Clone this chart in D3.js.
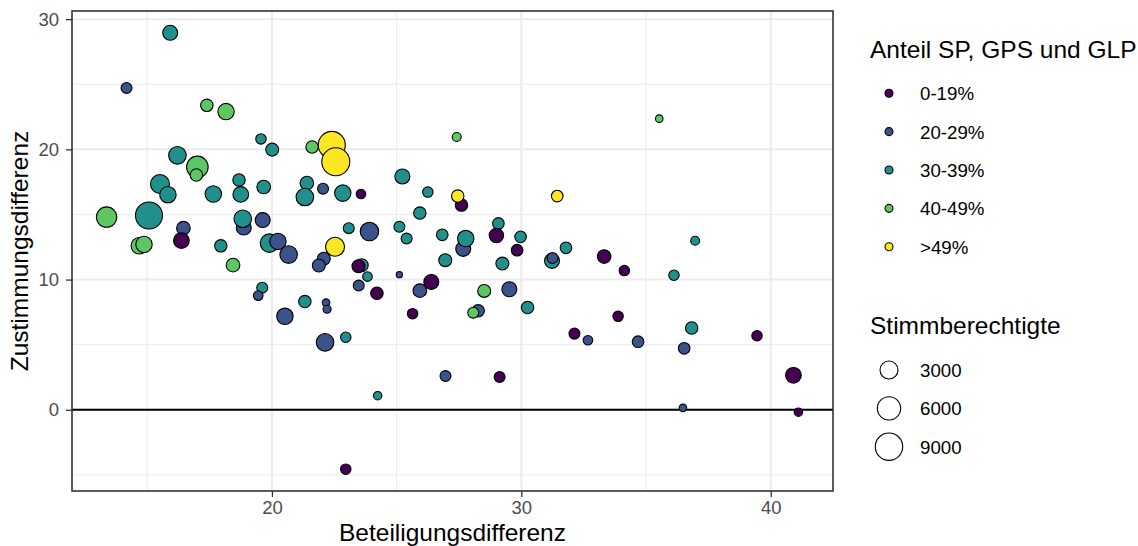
<!DOCTYPE html>
<html>
<head>
<meta charset="utf-8">
<script src="https://cdn.jsdelivr.net/npm/d3@7"></script>
<style>
  body { margin: 0; background: #fff; }
  svg { display: block; font-family: 'Liberation Sans', Arial, sans-serif; }
</style>
</head>
<body>
<div id="chart"></div>
<script>
// one entry per Gemeinde
const beteiligung = [
    15.92, 14.17, 17.39, 18.16, 19.56, 20.01, 21.61, 16.21, 17.01, 16.97,
    15.51, 15.83, 17.65, 18.68, 18.75, 19.67, 21.40, 21.32, 22.05, 22.84,
    23.57, 22.40, 22.56, 13.37, 15.07, 16.45, 16.37, 18.87, 18.83, 19.63,
    14.68, 14.87, 17.95, 19.90, 20.24, 20.67, 18.44, 19.61, 19.45, 20.52,
    21.32, 22.17, 22.21, 22.13, 22.53, 22.08, 21.88, 23.08, 23.91, 23.60,
    23.47, 23.83, 23.48, 24.21, 22.96, 22.96, 24.24, 25.23, 26.25, 25.93,
    27.41, 27.60, 27.45, 31.44, 25.11, 25.40, 26.83, 27.67, 27.77, 29.08,
    29.00, 29.97, 29.83, 31.79, 31.23, 31.25, 26.95, 29.24, 25.11, 26.39,
    25.93, 28.51, 29.52, 25.64, 28.27, 28.07, 30.25, 32.13, 26.96, 29.13,
    35.53, 36.97, 33.32, 34.13, 36.12, 33.88, 32.67, 34.68, 36.83, 36.53,
    39.45, 40.91, 36.48, 41.11
]
const zustimmung = [
    28.95, 24.72, 23.38, 22.90, 20.80, 19.98, 20.18, 19.54, 18.65, 18.03,
    17.34, 16.52, 16.57, 17.65, 16.54, 17.11, 17.41, 16.34, 16.98, 16.64,
    16.57, 20.34, 19.05, 14.80, 14.92, 13.95, 13.00, 14.00, 14.67, 14.57,
    12.60, 12.70, 12.59, 12.80, 12.93, 11.92, 11.11, 9.38, 8.77, 7.18,
    8.31, 8.23, 7.72, 5.18, 12.52, 11.60, 11.08, 13.95, 13.69, 11.10,
    11.03, 10.23, 9.54, 8.95, 5.57, -4.56, 1.08, 17.92, 16.72, 15.11,
    20.95, 15.72, 16.41, 16.41, 14.05, 13.15, 13.44, 12.36, 13.15, 14.31,
    13.38, 13.28, 12.26, 12.44, 11.44, 11.65, 11.49, 11.23, 10.38, 9.82,
    9.15, 9.13, 9.26, 7.38, 7.60, 7.46, 7.85, 5.85, 2.59, 2.52,
    22.36, 12.98, 11.77, 10.69, 10.33, 7.18, 5.34, 5.23, 6.28, 4.72,
    5.69, 2.65, 0.15, -0.18
]
// 0 = 0-19%, 1 = 20-29%, 2 = 30-39%, 3 = 40-49%, 4 = >49%
const anteilGruppe = [
    2, 1, 3, 3, 2, 2, 3, 2, 3, 3,
    2, 2, 2, 2, 2, 2, 2, 2, 1, 2,
    0, 4, 4, 3, 2, 1, 0, 1, 2, 1,
    3, 3, 2, 2, 1, 1, 3, 2, 1, 1,
    2, 1, 1, 1, 4, 1, 1, 2, 1, 2,
    0, 2, 1, 0, 2, 0, 2, 2, 2, 2,
    3, 0, 4, 4, 2, 2, 2, 1, 2, 2,
    0, 2, 0, 2, 2, 1, 2, 2, 1, 0,
    1, 3, 1, 0, 1, 3, 2, 0, 1, 0,
    3, 2, 0, 0, 2, 0, 1, 1, 2, 1,
    0, 0, 1, 0
]
const stimmberechtigte = [
    1750, 600, 950, 2300, 500, 1100, 950, 2800, 4900, 950,
    3500, 2300, 2300, 950, 2000, 1300, 1300, 2800, 600, 2300,
    350, 8700, 9500, 4200, 8700, 1300, 2000, 1750, 2800, 1750,
    2300, 2300, 950, 3200, 2300, 2800, 1300, 600, 350, 2300,
    950, 100, 150, 2800, 3500, 1100, 1100, 600, 3200, 1100,
    1100, 350, 600, 950, 500, 500, 190, 1750, 500, 950,
    260, 950, 950, 750, 600, 600, 750, 1750, 2300, 750,
    1550, 750, 750, 750, 1750, 600, 1100, 1100, 20, 1750,
    1300, 1100, 1750, 500, 950, 600, 950, 600, 600, 600,
    100, 260, 1300, 500, 500, 500, 350, 750, 950, 750,
    500, 2000, 100, 190
]

const gruppen = ['0-19%', '20-29%', '30-39%', '40-49%', '>49%']
const gruppenFarben = ['#440154', '#3B528B', '#21908C', '#5DC863', '#FDE725']
const xTicks = [20, 30, 40]
const yTicks = [0, 10, 20, 30]
const groessenLegende = [3000, 6000, 9000]

const width = 1138
const height = 546
const panel = {left: 72, right: 833, top: 11, bottom: 491}

const points = beteiligung.map((x, i) => ({
    x,
    y: zustimmung[i],
    g: anteilGruppe[i],
    n: stimmberechtigte[i]
}))

// ggplot style: 5% expansion around the data
const expand = ext => {
    const pad = (ext[1] - ext[0]) * 0.05
    return [ext[0] - pad, ext[1] + pad]
}

const x = d3
    .scaleLinear()
    .domain(expand(d3.extent(beteiligung)))
    .range([panel.left, panel.right])
const y = d3
    .scaleLinear()
    .domain(expand(d3.extent(zustimmung)))
    .range([panel.bottom, panel.top])
const r = d3
    .scaleSqrt()
    .domain([0, 10000])
    .range([2.6, 14.3])
const color = d3
    .scaleOrdinal()
    .domain(d3.range(gruppen.length))
    .range(gruppenFarben)

// minor breaks sit halfway between the major ones
const minorOf = (ticks, scale) => {
    const step = ticks[1] - ticks[0]
    const [lo, hi] = scale.domain()
    return [...ticks.map(t => t - step / 2), ticks[ticks.length - 1] + step / 2]
        .filter(t => t > lo && t < hi)
}

const svg = d3
    .select('#chart')
    .append('svg')
    .attr('width', width)
    .attr('height', height)

// grid
const grid = svg.append('g')
grid
    .selectAll('line.xminor')
    .data(minorOf(xTicks, x))
    .enter()
    .append('line')
    .attr('x1', d => x(d))
    .attr('x2', d => x(d))
    .attr('y1', panel.top)
    .attr('y2', panel.bottom)
    .attr('stroke', '#ebebeb')
    .attr('stroke-width', 1)
grid
    .selectAll('line.yminor')
    .data(minorOf(yTicks, y))
    .enter()
    .append('line')
    .attr('x1', panel.left)
    .attr('x2', panel.right)
    .attr('y1', d => y(d))
    .attr('y2', d => y(d))
    .attr('stroke', '#ebebeb')
    .attr('stroke-width', 1)
grid
    .selectAll('line.xmajor')
    .data(xTicks)
    .enter()
    .append('line')
    .attr('x1', d => x(d))
    .attr('x2', d => x(d))
    .attr('y1', panel.top)
    .attr('y2', panel.bottom)
    .attr('stroke', '#ebebeb')
    .attr('stroke-width', 2)
grid
    .selectAll('line.ymajor')
    .data(yTicks)
    .enter()
    .append('line')
    .attr('x1', panel.left)
    .attr('x2', panel.right)
    .attr('y1', d => y(d))
    .attr('y2', d => y(d))
    .attr('stroke', '#ebebeb')
    .attr('stroke-width', 2)

// zero line
svg
    .append('line')
    .attr('x1', panel.left)
    .attr('x2', panel.right)
    .attr('y1', y(0))
    .attr('y2', y(0))
    .attr('stroke', '#000')
    .attr('stroke-width', 2)

// points
svg
    .append('g')
    .selectAll('circle')
    .data(points)
    .enter()
    .append('circle')
    .attr('cx', d => x(d.x))
    .attr('cy', d => y(d.y))
    .attr('r', d => r(d.n))
    .attr('fill', d => color(d.g))
    .attr('stroke', '#000')
    .attr('stroke-width', 1.1)

// panel border
svg
    .append('rect')
    .attr('x', panel.left)
    .attr('y', panel.top)
    .attr('width', panel.right - panel.left)
    .attr('height', panel.bottom - panel.top)
    .attr('fill', 'none')
    .attr('stroke', '#333333')
    .attr('stroke-width', 1.6)

// axes
const styleAxis = g => {
    g.select('.domain').remove()
    g.selectAll('.tick line').attr('stroke', '#333333').attr('stroke-width', 1.3)
    g.selectAll('.tick text')
        .attr('fill', '#4d4d4d')
        .style('font-size', '18.5px')
        .style('font-family', "'Liberation Sans', Arial, sans-serif")
}

svg
    .append('g')
    .attr('transform', 'translate(0,' + panel.bottom + ')')
    .call(d3.axisBottom(x).tickValues(xTicks).tickSize(6).tickPadding(4))
    .call(styleAxis)

svg
    .append('g')
    .attr('transform', 'translate(' + panel.left + ',0)')
    .call(d3.axisLeft(y).tickValues(yTicks).tickSize(6).tickPadding(7))
    .call(styleAxis)

svg
    .append('text')
    .attr('x', (panel.left + panel.right) / 2)
    .attr('y', 541)
    .attr('text-anchor', 'middle')
    .style('font-size', '24.5px')
    .text('Beteiligungsdifferenz')

svg
    .append('text')
    .attr('transform', 'translate(28,' + (panel.top + panel.bottom) / 2 + ') rotate(-90)')
    .attr('text-anchor', 'middle')
    .style('font-size', '24.5px')
    .text('Zustimmungsdifferenz')

// colour legend
const legend = svg.append('g')
legend
    .append('text')
    .attr('x', 870)
    .attr('y', 58)
    .style('font-size', '24.5px')
    .text('Anteil SP, GPS und GLP')

const colorKeys = legend
    .selectAll('g.ckey')
    .data(gruppen)
    .enter()
    .append('g')
    .attr('transform', (d, i) => 'translate(889,' + (93.3 + i * 38.35) + ')')
colorKeys
    .append('circle')
    .attr('r', 4)
    .attr('fill', (d, i) => color(i))
    .attr('stroke', '#000')
    .attr('stroke-width', 1.1)
colorKeys
    .append('text')
    .attr('x', 31)
    .attr('y', 7)
    .style('font-size', '18.7px')
    .text(d => d)

// size legend
legend
    .append('text')
    .attr('x', 870)
    .attr('y', 334)
    .style('font-size', '24.5px')
    .text('Stimmberechtigte')

const sizeKeys = legend
    .selectAll('g.skey')
    .data(groessenLegende)
    .enter()
    .append('g')
    .attr('transform', (d, i) => 'translate(889,' + (370 + i * 38.35) + ')')
sizeKeys
    .append('circle')
    .attr('r', d => r(d))
    .attr('fill', '#fff')
    .attr('stroke', '#000')
    .attr('stroke-width', 1.1)
sizeKeys
    .append('text')
    .attr('x', 31)
    .attr('y', 7)
    .style('font-size', '18.7px')
    .text(d => d)
</script>
</body>
</html>
